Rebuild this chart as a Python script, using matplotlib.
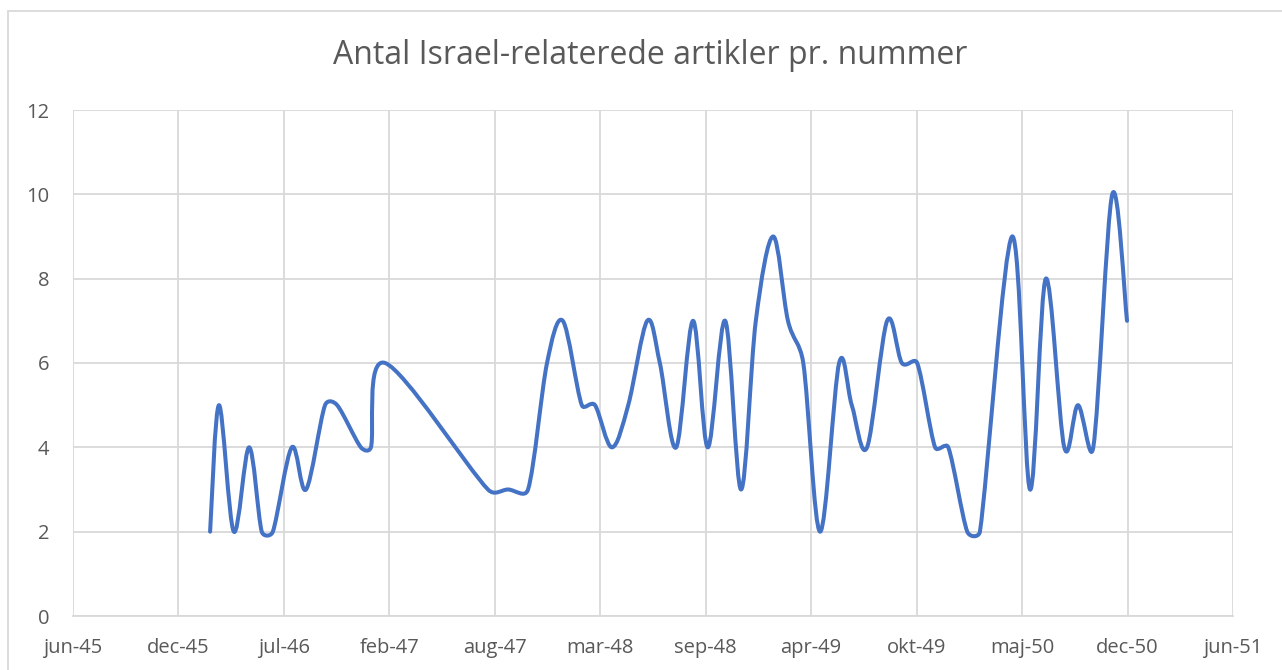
import numpy as np
import matplotlib
matplotlib.use('Agg')
import matplotlib.pyplot as plt
import matplotlib.dates as mdates
from matplotlib.path import Path
from matplotlib.patches import PathPatch, Rectangle
from matplotlib.ticker import FixedLocator, FuncFormatter

# Issue dates and number of Israel-related articles per issue
dates = ['1946-02-27', '1946-03-16', '1946-04-13', '1946-05-12', '1946-06-05',
         '1946-06-26', '1946-08-01', '1946-08-28', '1946-10-03', '1946-10-26',
         '1946-12-10', '1946-12-29', '1947-01-25', '1947-08-08', '1947-09-15',
         '1947-10-23', '1947-11-28', '1947-12-28', '1948-02-02', '1948-02-27',
         '1948-03-30', '1948-04-30', '1948-06-05', '1948-06-29', '1948-07-30',
         '1948-08-31', '1948-09-28', '1948-10-31', '1948-11-30', '1948-12-28',
         '1949-01-30', '1949-02-27', '1949-03-28', '1949-04-29', '1949-06-04',
         '1949-06-28', '1949-07-27', '1949-09-03', '1949-10-01', '1949-10-30',
         '1949-12-03', '1949-12-28', '1950-02-02', '1950-02-26', '1950-04-28',
         '1950-06-01', '1950-07-01', '1950-08-05', '1950-08-31', '1950-09-29',
         '1950-11-04', '1950-12-02']
articles = [2, 5, 2, 4, 2,
            2, 4, 3, 5, 5,
            4, 4, 6, 3, 3,
            3, 6, 7, 5, 5,
            4, 5, 7, 6, 4,
            7, 4, 7, 3, 7,
            9, 7, 6, 2, 6,
            5, 4, 7, 6, 6,
            4, 4, 2, 2, 9,
            3, 8, 4, 5, 4,
            10, 7]

title = 'Antal Israel-relaterede artikler pr. nummer'
months_da = ['jan', 'feb', 'mar', 'apr', 'maj', 'jun',
             'jul', 'aug', 'sep', 'okt', 'nov', 'dec']

# Excel-style date axis: 200-day major unit starting at 1945-06-12
axis_start = np.datetime64('1945-06-12')
axis_ticks = [axis_start + np.timedelta64(200 * k, 'D') for k in range(12)]

blue = '#4472C4'
grey_text = '#595959'
grid_col = '#D9D9D9'

plt.rcParams['font.family'] = ['Open Sans', 'DejaVu Sans']


# Smoothed line like Excel: Bezier segments, handles capped at half a segment
def smooth_path(pts):
    n = len(pts)
    verts = [pts[0]]
    codes = [Path.MOVETO]
    for i in range(n - 1):
        p0 = pts[max(i - 1, 0)]
        p1 = pts[i]
        p2 = pts[i + 1]
        p3 = pts[min(i + 2, n - 1)]
        d12 = np.hypot(*(p2 - p1))
        d02 = np.hypot(*(p2 - p0))
        d13 = np.hypot(*(p3 - p1))
        f1 = 1 / 6
        f2 = 1 / 6
        if d02 > 0 and d02 / 6 > d12 / 2:
            f1 = d12 / d02 / 2
        if d13 > 0 and d13 / 6 > d12 / 2:
            f2 = d12 / d13 / 2
        c1 = p1 + f1 * (p2 - p0)
        c2 = p2 - f2 * (p3 - p1)
        verts += [c1, c2, p2]
        codes += [Path.CURVE4] * 3
    return Path(verts, codes)


W, H = 1282, 670
fig = plt.figure(figsize=(W / 100, H / 100), dpi=100)
ax = fig.add_axes([73 / W, (H - 616) / H, 1160 / W, 506 / H])

xnum = mdates.date2num(np.array(dates, dtype='datetime64[D]'))
tick_num = mdates.date2num(np.array(axis_ticks))

ax.set_xlim(tick_num[0], tick_num[-1])
ax.set_ylim(0, 12)
ax.set_yticks(np.arange(0, 13, 2))
ax.xaxis.set_major_locator(FixedLocator(tick_num))

# build the curve in screen pixels, then back to data coordinates
screen = ax.transData.transform(np.column_stack([xnum, articles]))
curve = smooth_path(screen)
curve = Path(ax.transData.inverted().transform(curve.vertices), curve.codes)
ax.add_patch(PathPatch(curve, fill=False, edgecolor=blue, lw=2.9,
                       capstyle='round', joinstyle='round', zorder=3))


def fmt_date(v, pos):
    d = mdates.num2date(v)
    return f'{months_da[d.month - 1]}-{d.year % 100:02d}'


ax.xaxis.set_major_formatter(FuncFormatter(fmt_date))

ax.grid(True, color=grid_col, lw=1.3)
ax.set_axisbelow(True)
for s in ['top', 'right', 'left']:
    ax.spines[s].set_visible(False)
ax.spines['bottom'].set_color(grid_col)
ax.spines['bottom'].set_linewidth(1.3)
ax.tick_params(axis='both', length=0, labelsize=14.5, labelcolor=grey_text)
ax.tick_params(axis='y', pad=17)
ax.tick_params(axis='x', pad=16)

fig.text(650 / W, 1 - 56 / H, title, ha='center', va='center',
         fontsize=23, color=grey_text)

# chart area border
fig.add_artist(Rectangle((8 / W, -0.1), 2, (H - 11) / H + 0.1,
                         transform=fig.transFigure, fill=False,
                         edgecolor=grid_col, lw=1.3))

fig.savefig('out.png', dpi=100)
